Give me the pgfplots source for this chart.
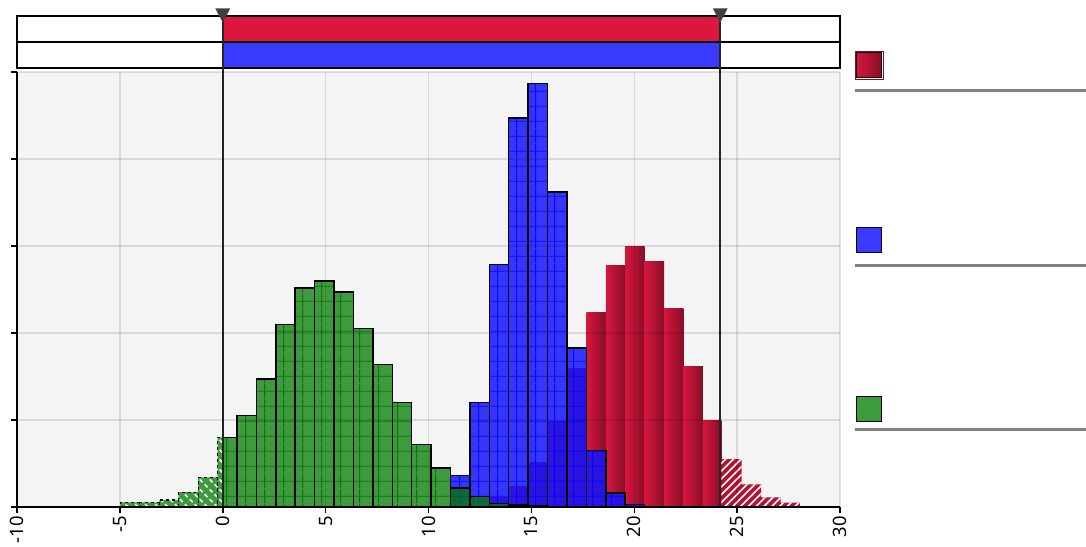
\documentclass[border=0pt]{standalone}
\usepackage{fontspec}
\setmainfont{Noto Sans}
\usepackage{pgfplots}
\pgfplotsset{compat=1.18}
\usetikzlibrary{patterns,patterns.meta}

\definecolor{gfill}{RGB}{0,125,0}
\definecolor{gleg}{RGB}{60,155,60}
\definecolor{bfill}{RGB}{20,20,255}
\definecolor{rlight}{RGB}{216,22,62}
\definecolor{rdark}{RGB}{135,14,38}
\definecolor{rhatch}{RGB}{180,18,50}
\definecolor{crimson}{RGB}{220,22,62}
\definecolor{rowblue}{RGB}{58,58,255}
\definecolor{bgc}{RGB}{244,244,244}
\definecolor{leggray}{RGB}{128,128,128}

\pgfdeclarepatternformonly{bargrid}{\pgfpointorigin}{\pgfpoint{19.4bp}{14.5bp}}{\pgfpoint{19.4bp}{14.5bp}}{%
  \pgfsetlinewidth{0.9bp}%
  \pgfpathmoveto{\pgfpoint{0bp}{7bp}}\pgfpathlineto{\pgfpoint{19.4bp}{7bp}}%
  \pgfpathmoveto{\pgfpoint{14bp}{0bp}}\pgfpathlineto{\pgfpoint{14bp}{14.5bp}}%
  \pgfusepath{stroke}%
}

\pgfplotsset{redbar/.style={ybar interval, draw=none, left color=rlight, right color=rdark, forget plot}}

\begin{document}
\begin{tikzpicture}
\begin{axis}[
  at={(17bp,-507bp)}, anchor=south west,
  scale only axis, width=823bp, height=435bp,
  xmin=-10, xmax=30, ymin=0, ymax=5,
  axis lines*=left,
  axis line style={line width=2bp, black},
  xtick={-10,-5,0,5,10,15,20,25,30},
  xticklabels={-10,-5,0,5,10,15,20,25,30},
  ytick={0,1,2,3,4,5}, yticklabels={},
  tick align=outside, major tick length=6bp,
  tick style={line width=1.5bp, black},
  xticklabel style={rotate=90, anchor=east, font=\fontsize{18.5}{18.5}\selectfont, inner sep=3bp},
  grid=major, major grid style={black, opacity=0.11, line width=1.5bp},
  axis background/.style={fill=bgc},
  axis on top, clip=false,
]
% red solid (gradient per bar)
\addplot[redbar] coordinates {(12.957,0.11) (13.900,0)};
\addplot[redbar] coordinates {(13.900,0.24) (14.844,0)};
\addplot[redbar] coordinates {(14.844,0.51) (15.787,0)};
\addplot[redbar] coordinates {(15.787,0.98) (16.731,0)};
\addplot[redbar] coordinates {(16.731,1.59) (17.674,0)};
\addplot[redbar] coordinates {(17.674,2.24) (18.618,0)};
\addplot[redbar] coordinates {(18.618,2.78) (19.561,0)};
\addplot[redbar] coordinates {(19.561,2.99) (20.505,0)};
\addplot[redbar] coordinates {(20.505,2.82) (21.448,0)};
\addplot[redbar] coordinates {(21.448,2.28) (22.392,0)};
\addplot[redbar] coordinates {(22.392,1.62) (23.335,0)};
\addplot[redbar] coordinates {(23.335,0.99) (24.23,0)};
% red hatched
\addplot[ybar interval, draw=none, fill=rhatch,
  postaction={pattern={Lines[angle=45,distance=5.5bp,line width=1.6bp]}, pattern color=white}] coordinates {
(24.23,0.55) (25.222,0.26) (26.166,0.11) (27.109,0.05) (28.053,0)};
% blue
\addplot[ybar interval, draw=black, line width=1.5bp, fill=bfill, fill opacity=0.85,
  postaction={pattern=bargrid, pattern color=blue}] coordinates {
(11.070,0.36) (12.013,1.20) (12.957,2.79) (13.900,4.47) (14.844,4.87) (15.787,3.62)
(16.731,1.83) (17.674,0.65) (18.618,0.16) (19.561,0.03) (20.505,0)};
% green hatched
\addplot[ybar interval, draw=black, dashed, line width=1.2bp, fill=gfill, fill opacity=0.75,
  postaction={pattern={Lines[angle=-45,distance=7bp,line width=1.6bp]}, pattern color=white}] coordinates {
(-4.970,0.054) (-4.027,0.054) (-3.083,0.08) (-2.140,0.17) (-1.196,0.34) (-0.253,0.80) (0,0)};
% green solid
\addplot[ybar interval, draw=black, line width=1.5bp, fill=gfill, fill opacity=0.75,
  postaction={pattern=bargrid, pattern color=gfill!80!black}] coordinates {
(0,0.80) (0.691,1.05) (1.635,1.47) (2.578,2.10) (3.522,2.52) (4.465,2.60) (5.409,2.47)
(6.352,2.05) (7.296,1.64) (8.239,1.20) (9.183,0.72) (10.126,0.45) (11.070,0.22)
(12.013,0.12) (12.957,0.04) (13.900,0.025) (14.844,0.015) (15.787,0)};
% range selector rows
\fill[white] (axis cs:-10,5.046) rectangle (axis cs:30,5.644);
\fill[crimson] (axis cs:0,5.345) rectangle (axis cs:24.18,5.644);
\fill[rowblue] (axis cs:0,5.046) rectangle (axis cs:24.18,5.345);
\draw[line width=2bp] (axis cs:-10,5.046) rectangle (axis cs:30,5.644);
\draw[line width=2bp] (axis cs:-10,5.345) -- (axis cs:30,5.345);
\draw[line width=2bp, black!85] (axis cs:0,0) -- (axis cs:0,5.62);
\draw[line width=2bp, black!85] (axis cs:24.18,0) -- (axis cs:24.18,5.62);
\fill[black!75] (axis cs:-0.36,5.73) -- (axis cs:0.36,5.73) -- (axis cs:0,5.57) -- cycle;
\fill[black!75] (axis cs:23.82,5.73) -- (axis cs:24.54,5.73) -- (axis cs:24.18,5.57) -- cycle;
\end{axis}
\begin{scope}[x=1bp,y=-1bp]
\draw[rdark, line width=1bp] (855,51) rectangle (883,79);
\draw[black, line width=1.6bp, left color=rlight, right color=rdark] (856.5,52.5) rectangle (881.5,77.5);
\draw[black, line width=1.6bp, fill=rowblue] (856.5,227.5) rectangle (881.5,252.5);
\draw[black, line width=1.6bp, fill=gleg] (856.5,396.5) rectangle (881.5,421.5);
\draw[leggray, line width=3bp] (855,90) -- (1086,90);
\draw[leggray, line width=3bp] (855,265) -- (1086,265);
\draw[leggray, line width=3bp] (855,429) -- (1086,429);
\end{scope}
\pgfresetboundingbox
\path[use as bounding box] (0,0) rectangle (1086bp,-547bp);
\end{tikzpicture}
\end{document}
